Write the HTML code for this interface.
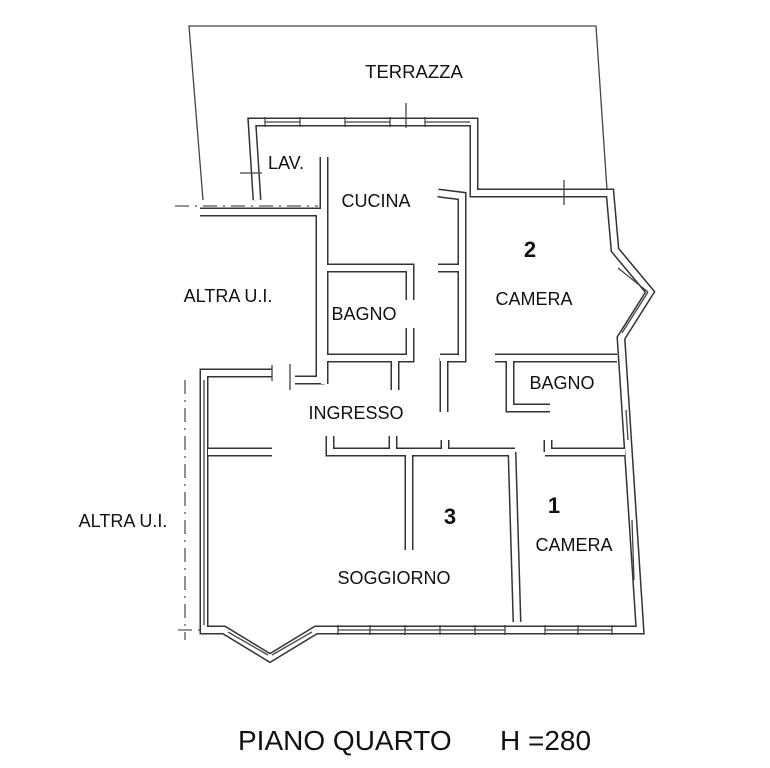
<!DOCTYPE html>
<html><head><meta charset="utf-8"><style>
html,body{margin:0;padding:0;background:#fff}
svg{display:block}
text{font-family:"Liberation Sans",Arial,sans-serif;fill:#111}
.w{fill:none;stroke:#333;stroke-width:9;stroke-linejoin:miter;stroke-linecap:butt}
.wi{fill:none;stroke:#fff;stroke-width:6;stroke-linejoin:miter;stroke-linecap:butt}
.t{fill:none;stroke:#444;stroke-width:1.3}
.d{fill:none;stroke:#555;stroke-width:1.3;stroke-dasharray:14 6 2 6}
</style></head><body>
<svg width="770" height="768" viewBox="0 0 770 768" xmlns="http://www.w3.org/2000/svg">
<polyline class="t" points="203,200 189,26 596,26 607,190"/>
<polyline class="d" points="175,206 318,206"/>
<polyline class="d" points="185,380 185,640"/>
<polyline class="d" points="178,630 215,630"/>
<path class="w" d="M257,200 L252,122 L474,122 L474,193 L610,193 L615,250 L650,292 L621,338 L640,630 L316,630 L270,658 L224,630 L204,630 L204,373 L272,373 M200,212 L320,212 L320,380 L295,380 M324,157 L324,384 M324,268 L410,268 L410,300 M410,328 L410,358 L324,358 M395,358 L395,390 M438,193 L462,196 L462,358 L440,358 M438,268 L462,268 M444,358 L444,412 M495,358 L617,358 M510,358 L510,408 L550,408 M208,452 L272,452 M330,436 L330,452 L515,452 M393,436 L393,452 M445,440 L445,452 M409,452 L409,550 M512,452 L517,622 M545,452 L625,452 M548,440 L548,452"/>
<path class="wi" d="M257,200 L252,122 L474,122 L474,193 L610,193 L615,250 L650,292 L621,338 L640,630 L316,630 L270,658 L224,630 L204,630 L204,373 L272,373 M200,212 L320,212 L320,380 L295,380 M324,157 L324,384 M324,268 L410,268 L410,300 M410,328 L410,358 L324,358 M395,358 L395,390 M438,193 L462,196 L462,358 L440,358 M438,268 L462,268 M444,358 L444,412 M495,358 L617,358 M510,358 L510,408 L550,408 M208,452 L272,452 M330,436 L330,452 L515,452 M393,436 L393,452 M445,440 L445,452 M409,452 L409,550 M512,452 L517,622 M545,452 L625,452 M548,440 L548,452"/>
<g class="t">
<line x1="265" y1="122" x2="300" y2="122"/><line x1="345" y1="122" x2="390" y2="122"/><line x1="425" y1="122" x2="470" y2="122"/>
<line x1="265" y1="117" x2="265" y2="127"/><line x1="300" y1="117" x2="300" y2="127"/><line x1="345" y1="117" x2="345" y2="127"/><line x1="390" y1="117" x2="390" y2="127"/><line x1="425" y1="117" x2="425" y2="127"/>
<line x1="406" y1="103" x2="406" y2="128"/>
<line x1="564" y1="180" x2="564" y2="205"/>
<line x1="290" y1="364" x2="290" y2="390"/>
<line x1="240" y1="173" x2="262" y2="173"/>
<line x1="618" y1="268" x2="648" y2="292"/><line x1="648" y1="292" x2="622" y2="333"/>
<line x1="338" y1="630" x2="505" y2="630"/><line x1="545" y1="630" x2="612" y2="630"/>
<line x1="338" y1="625" x2="338" y2="635"/><line x1="370" y1="625" x2="370" y2="635"/><line x1="405" y1="625" x2="405" y2="635"/><line x1="440" y1="625" x2="440" y2="635"/><line x1="475" y1="625" x2="475" y2="635"/><line x1="505" y1="625" x2="505" y2="635"/><line x1="545" y1="625" x2="545" y2="635"/><line x1="578" y1="625" x2="578" y2="635"/><line x1="612" y1="625" x2="612" y2="635"/>
<line x1="228" y1="632" x2="268" y2="655"/><line x1="272" y1="655" x2="312" y2="632"/>
<line x1="626" y1="410" x2="628" y2="440"/><line x1="632" y1="520" x2="634" y2="580"/>
<line x1="204" y1="380" x2="204" y2="625"/>
<line x1="272" y1="365" x2="272" y2="381"/>
</g>
<text x="414" y="78" font-size="18.5" text-anchor="middle">TERRAZZA</text>
<text x="268" y="169" font-size="18">LAV.</text>
<text x="376" y="207" font-size="18" text-anchor="middle">CUCINA</text>
<text x="530" y="257" font-size="22" font-weight="bold" text-anchor="middle">2</text>
<text x="534" y="305" font-size="18" text-anchor="middle">CAMERA</text>
<text x="228" y="302" font-size="18" text-anchor="middle">ALTRA U.I.</text>
<text x="364" y="320" font-size="18" text-anchor="middle">BAGNO</text>
<text x="562" y="389" font-size="18" text-anchor="middle">BAGNO</text>
<text x="356" y="419" font-size="18" text-anchor="middle">INGRESSO</text>
<text x="450" y="524" font-size="22" font-weight="bold" text-anchor="middle">3</text>
<text x="554" y="513" font-size="22" font-weight="bold" text-anchor="middle">1</text>
<text x="574" y="551" font-size="18" text-anchor="middle">CAMERA</text>
<text x="394" y="584" font-size="18" text-anchor="middle">SOGGIORNO</text>
<text x="123" y="527" font-size="18" text-anchor="middle">ALTRA U.I.</text>
<text x="238" y="750" font-size="28">PIANO QUARTO</text>
<text x="500" y="750" font-size="28">H =280</text>
</svg>
</body></html>
